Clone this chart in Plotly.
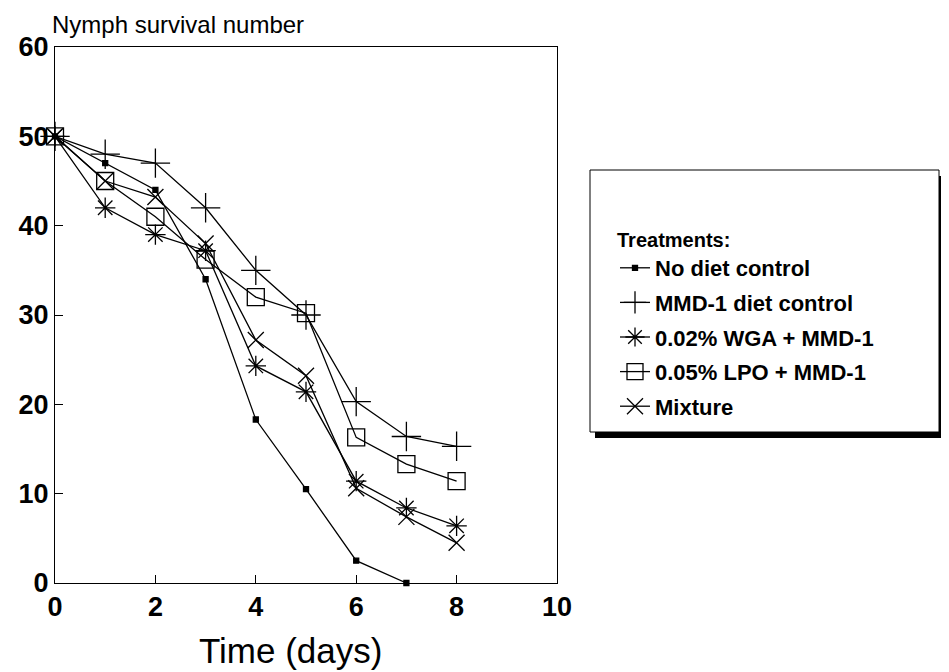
import plotly.graph_objects as go

days = [0, 1, 2, 3, 4, 5, 6, 7, 8]
days_no_diet = [0, 1, 2, 3, 4, 5, 6, 7]
no_diet = [50, 47, 44, 34, 18.3, 10.5, 2.5, 0]
mmd1 = [50, 48, 47, 42, 35, 30, 20.3, 16.4, 15.3]
wga = [50, 42, 39, 37.2, 24.3, 21.4, 11.4, 8.4, 6.4]
lpo = [50, 45, 41, 36.2, 32, 30.2, 16.3, 13.3, 11.4]
mixture = [50, 45, 43.2, 38, 27.2, 23.2, 10.6, 7.4, 4.5]

names = ["No diet control", "MMD-1 diet control", "0.02% WGA + MMD-1",
         "0.05% LPO + MMD-1", "Mixture"]
x_ticks = [0, 2, 4, 6, 8, 10]
y_ticks = [0, 10, 20, 30, 40, 50, 60]

series = [
    (days_no_diet, no_diet, "square", 5),
    (days, mmd1, "cross-thin-open", 21),
    (days, wga, "asterisk-open", 17),
    (days, lpo, "square-open", 17),
    (days, mixture, "x-thin-open", 16),
]

fig = go.Figure()
for i, (xs, ys, sym, size) in enumerate(series):
    fig.add_trace(go.Scatter(
        x=xs, y=ys, name=names[i], mode="lines+markers",
        legendgroup=f"g{i}",
        line=dict(color="black", width=1.3),
        marker=dict(symbol=sym, size=size, color="black",
                    line=dict(color="black", width=1.3)),
        cliponaxis=False,
    ))

# page body adds an 8px offset; work in target-pixel coordinates
OFF = 8
W, H = 949 - OFF, 672 - OFF
PL, PT, PR, PB = 55, 47, 557, 583          # target plot box
L, T = PL - OFF, PT - OFF
R, B = W - (PR - OFF), H - (PB - OFF)
pw = PR - PL
ph = PB - PT

def px_x(p):
    return (p - PL) / pw

def px_y(p):
    return (PB - p) / ph

shapes = [
    dict(type="rect", xref="paper", yref="paper",
         x0=px_x(595), x1=px_x(945), y0=px_y(438), y1=px_y(176),
         fillcolor="black", line=dict(width=0)),
    dict(type="rect", xref="paper", yref="paper",
         x0=px_x(590), x1=px_x(939), y0=px_y(432), y1=px_y(170),
         fillcolor="white", line=dict(color="black", width=1)),
]

fig.update_layout(
    width=W, height=H,
    margin=dict(l=L, r=R, t=T, b=B),
    plot_bgcolor="white", paper_bgcolor="white",
    font=dict(family="Liberation Sans, Arial, sans-serif", color="black"),
    showlegend=True,
    shapes=shapes,
    legend=dict(
        x=px_x(615), y=px_y(221), xanchor="left", yanchor="top",
        bgcolor="rgba(0,0,0,0)", borderwidth=0,
        font=dict(size=22, weight="bold", color="black"),
        title=dict(text="Treatments:", font=dict(size=20, weight="bold")),
        tracegroupgap=3,
    ),
    xaxis=dict(
        range=[0, 10], tickvals=x_ticks, ticktext=[str(v) for v in x_ticks],
        ticks="inside", ticklen=8, tickcolor="black",
        showline=True, linecolor="black", linewidth=1, mirror=True,
        showgrid=False, zeroline=False,
        tickfont=dict(size=27, weight="bold"),
    ),
    yaxis=dict(
        range=[0, 60], tickvals=y_ticks, ticktext=[str(v) for v in y_ticks],
        ticks="inside", ticklen=8, tickcolor="black",
        showline=True, linecolor="black", linewidth=1, mirror=True,
        showgrid=False, zeroline=False,
        tickfont=dict(size=27, weight="bold"),
    ),
    annotations=[
        dict(text="Nymph survival number", xref="paper", yref="paper",
             x=px_x(50), y=1.0, yshift=7, xanchor="left", yanchor="bottom",
             showarrow=False, font=dict(size=24)),
        dict(text="Time (days)", xref="paper", yref="paper",
             x=px_x(290), y=0, yshift=-46, xanchor="center", yanchor="top",
             showarrow=False, font=dict(size=35)),
    ],
)

fig.write_html("out.html")
